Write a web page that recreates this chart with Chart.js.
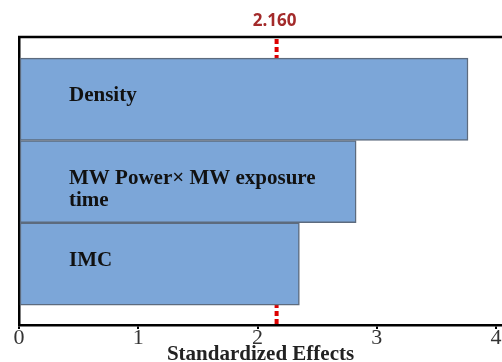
<!DOCTYPE html>
<html>
<head>
<meta charset="utf-8">
<script src="https://cdn.jsdelivr.net/npm/chart.js@4"></script>
<style>
  html, body { margin: 0; padding: 0; background: #fff; }
  #wrap { width: 502px; height: 362px; }
</style>
</head>
<body>
<div id="wrap"><canvas id="chart"></canvas></div>
<script>
// Данные
const categories = ['Density', ['MW Power× MW exposure', 'time'], 'IMC'];
const effects = [3.765, 2.827, 2.351];
const criticalValue = 2.160;
const criticalLabel = '2.160';
const xTicks = [0, 1, 2, 3, 4];
const axisTitle = 'Standardized Effects';

// Подписи внутри столбцов, граница сверху и критическая линия
const overlayPlugin = {
    id: 'overlay',
    beforeDatasetsDraw(chart) {
        const {ctx, chartArea, scales} = chart;
        const x = scales.x.getPixelForValue(criticalValue);
        ctx.save();
        ctx.strokeStyle = '#dd0000';
        ctx.lineWidth = 4;
        ctx.setLineDash([5, 3]);
        ctx.beginPath();
        ctx.moveTo(x, chartArea.top + 2);
        ctx.lineTo(x, chartArea.bottom);
        ctx.stroke();
        ctx.restore();
    },
    afterDraw(chart) {
        const {ctx, chartArea, scales} = chart;
        const meta = chart.getDatasetMeta(0);
        ctx.save();
        // верхняя рамка
        ctx.strokeStyle = '#000';
        ctx.lineWidth = 2.5;
        ctx.beginPath();
        ctx.moveTo(chartArea.left - 1, chartArea.top);
        ctx.lineTo(chartArea.right + 2, chartArea.top);
        ctx.stroke();

        // подписи факторов
        ctx.fillStyle = '#111';
        ctx.font = 'bold 21px "Liberation Serif", serif';
        ctx.textAlign = 'left';
        ctx.textBaseline = 'middle';
        meta.data.forEach((bar, i) => {
            const lines = [].concat(categories[i]);
            lines.forEach((line, j) => {
                ctx.fillText(line, chartArea.left + 50, bar.y - 3.5 + j * 22);
            });
        });

        // значение критической линии
        const x = scales.x.getPixelForValue(criticalValue);
        ctx.fillStyle = '#a32a2a';
        ctx.font = 'bold 17px "Open Sans", sans-serif';
        ctx.textAlign = 'center';
        ctx.fillText(criticalLabel, x - 2, 21.5);
        ctx.restore();
    }
};

new Chart(document.getElementById('chart'), {
    type: 'bar',
    data: {
        datasets: [{
            data: effects.map((v, i) => ({x: v, y: i})),
            backgroundColor: '#7ca6d8',
            borderColor: '#5d6b7e',
            borderWidth: 1.5,
            borderSkipped: false,
            categoryPercentage: 1,
            barPercentage: 1
        }]
    },
    options: {
        indexAxis: 'y',
        responsive: true,
        maintainAspectRatio: false,
        animation: false,
        layout: {
            padding: {left: 19, right: 0, top: 37, bottom: 1.5}
        },
        plugins: {
            legend: {display: false},
            tooltip: {enabled: false}
        },
        scales: {
            x: {
                type: 'linear',
                min: 0,
                max: 4.05,
                afterBuildTicks: s => { s.ticks = xTicks.map(v => ({value: v})); },
                grid: {
                    display: true,
                    drawOnChartArea: false,
                    drawTicks: true,
                    tickLength: 4,
                    color: '#000',
                    lineWidth: 2
                },
                border: {display: true, color: '#000', width: 2.5},
                ticks: {
                    padding: -2,
                    color: '#333',
                    font: {family: '"Liberation Serif", serif', size: 22, lineHeight: 1}
                },
                title: {
                    display: true,
                    text: axisTitle,
                    color: '#222',
                    padding: {top: -3, bottom: -4.5},
                    font: {family: '"Liberation Serif", serif', size: 21, weight: 'bold', lineHeight: 1}
                }
            },
            y: {
                type: 'linear',
                reverse: true,
                offset: false,
                min: -0.757,
                max: 2.742,
                afterBuildTicks: s => { s.ticks = effects.map((v, i) => ({value: i})); },
                grid: {display: false, drawTicks: false},
                border: {display: true, color: '#000', width: 2.5},
                ticks: {display: false}
            }
        }
    },
    plugins: [overlayPlugin]
});
</script>
</body>
</html>
